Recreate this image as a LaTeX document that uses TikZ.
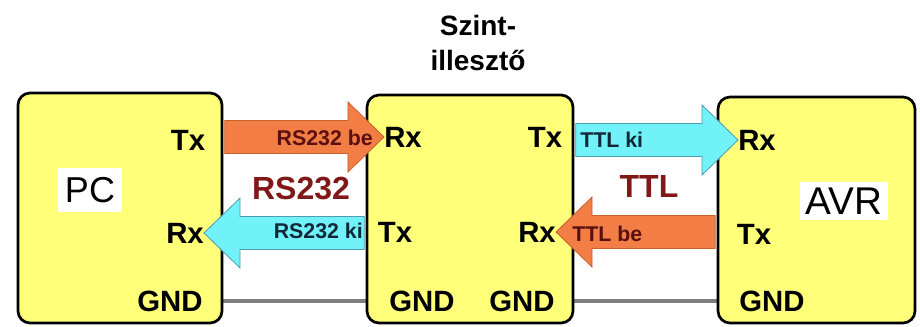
\documentclass[tikz,border=0pt]{standalone}
\usepackage{fontspec}
\setmainfont{Liberation Sans}
\usetikzlibrary{calc,backgrounds}
\definecolor{boxfill}{HTML}{FFFF7A}
\definecolor{hotfill}{HTML}{F27D45}
\definecolor{hotedge}{HTML}{C8602E}
\definecolor{coolfill}{HTML}{70F2F8}
\definecolor{cooledge}{HTML}{4E9CB0}
\definecolor{busred}{HTML}{801818}
\definecolor{hottext}{HTML}{5A1010}
\definecolor{cooltext}{HTML}{102838}
\tikzset{unit/.style={draw=black,line width=2pt,fill=boxfill,rounded corners=9pt},
port/.style={font=\fontsize{22}{26}\selectfont\bfseries,inner sep=0pt},
bus/.style={font=\fontsize{24}{28}\selectfont\bfseries,text=busred,inner sep=0pt},
hot/.style={fill=hotfill,draw=hotedge,line width=.6pt},
cool/.style={fill=coolfill,draw=cooledge,line width=.6pt},
tag/.style={font=\fontsize{16}{18}\selectfont\bfseries,inner sep=0pt},
gnd/.style={line width=3pt,draw=gray}}
% fat arrow: style, box anchor it starts from, tip
\newcommand\fatarrow[3]{%
  \draw[#1] let \p1=($(#2 |- #3)!1pt!(#3)$), \p2=(#3), \p3=($(#3)!27pt!(#2 |- #3)$) in
   (\x1,\y2+12.4pt) -- (\x3,\y2+12.4pt) -- (\x3,\y2+26.25pt) -- (\p2)
   -- (\x3,\y2-26.25pt) -- (\x3,\y2-12.4pt) -- (\x1,\y2-12.4pt) -- cycle;}

\begin{document}
\begin{tikzpicture}[x=0.75pt,y=-0.75pt]
\useasboundingbox (0,0) rectangle (920,326);
% the three units
\node[unit,minimum width=153pt,minimum height=172.5pt] (pc) at (120,208) {};
\node[unit,minimum width=154.5pt,minimum height=171pt] (lvl) at (470,209) {};
\node[unit,minimum width=147.75pt,minimum height=169.5pt] (avr) at (816.5,210) {};
\node[font=\fontsize{21}{26}\selectfont\bfseries,align=center] (title) at (478,43) {Szint-\\illesztő};
\node[font=\fontsize{27}{30}\selectfont,fill=white,inner xsep=5pt,inner ysep=7pt] (pcname) at (90,190) {PC};
\node[font=\fontsize{29}{32}\selectfont,fill=white,inner sep=4pt] (avrname) at (844,201) {AVR};
% pins
\node[port] (pctx) at (188,140) {Tx};
\node[port] (pcrx) at (185,233) {Rx};
\node[port] (pcgnd) at (170,301) {GND};
\node[port] (lvlrx) at (403,137) {Rx};
\node[port] (lvltx) at (395,232) {Tx};
\node[port] (lvlgnda) at (422,301) {GND};
\node[port] (lvltxb) at (545,137) {Tx};
\node[port] (lvlrxb) at (537,232) {Rx};
\node[port] (lvlgndb) at (522,301) {GND};
\node[port] (avrrx) at (757,140) {Rx};
\node[port] (avrtx) at (754,234) {Tx};
\node[port] (avrgnd) at (772,301) {GND};
% ground wires
\begin{scope}[on background layer]
\draw[gnd] (pc.east |- pcgnd) -- (lvl.west |- pcgnd);
\draw[gnd] (lvl.east |- lvlgndb) -- (avr.west |- avrgnd);
\end{scope}
% signals
\fatarrow{hot}{pc.east}{lvlrx.west}
\fatarrow{cool}{lvl.west}{pcrx.east}
\fatarrow{cool}{lvl.east}{avrrx.west}
\fatarrow{hot}{avr.west}{lvlrxb.east}
\node[tag,text=hottext,anchor=east] (rsbe) at (373,138) {RS232 be};
\node[tag,text=cooltext,anchor=east] (rski) at (363,231) {RS232 ki};
\node[tag,text=cooltext,anchor=west] (ttlki) at (580,140) {TTL ki};
\node[tag,text=hottext,anchor=west] (ttlbe) at (572,234) {TTL be};
\node[bus] (rs) at (301,189) {RS232};
\node[bus] (ttl) at (649,186) {TTL};
\end{tikzpicture}
\end{document}
